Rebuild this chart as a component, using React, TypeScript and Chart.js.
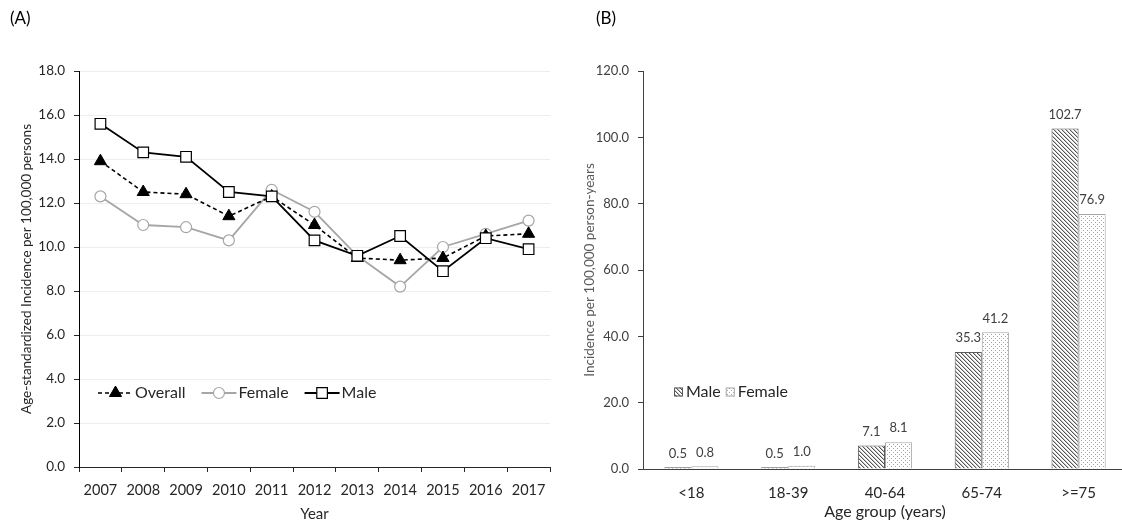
import React, { useEffect, useRef } from 'react';
import { Chart, registerables } from 'chart.js';

Chart.register(...registerables);

// ---------- Data ----------
const years = ['2007', '2008', '2009', '2010', '2011', '2012', '2013', '2014', '2015', '2016', '2017'];
const overallRate = [13.9, 12.5, 12.4, 11.4, 12.3, 11.0, 9.5, 9.4, 9.5, 10.5, 10.6];
const femaleRate = [12.3, 11.0, 10.9, 10.3, 12.6, 11.6, 9.6, 8.2, 10.0, 10.6, 11.2];
const maleRate = [15.6, 14.3, 14.1, 12.5, 12.3, 10.3, 9.6, 10.5, 8.9, 10.4, 9.9];

const ageGroups = ['<18', '18-39', '40-64', '65-74', '>=75'];
const maleByAge = [0.5, 0.5, 7.1, 35.3, 102.7];
const femaleByAge = [0.8, 1.0, 8.1, 41.2, 76.9];

const FONT = 'Lato, "Open Sans", sans-serif';

function makeHatch(): CanvasPattern | string {
  const c = document.createElement('canvas');
  c.width = 4; c.height = 4;
  const g = c.getContext('2d');
  if (!g) return '#999';
  g.fillStyle = '#ffffff';
  g.fillRect(0, 0, 4, 4);
  for (let i = 0; i < 4; i++) {
    g.fillStyle = '#555555';
    g.fillRect(i, i, 1, 1);
    g.fillStyle = '#c4c4c4';
    g.fillRect((i + 1) % 4, i, 1, 1);
  }
  return g.createPattern(c, 'repeat') || '#999';
}

function makeDots(): CanvasPattern | string {
  const c = document.createElement('canvas');
  c.width = 4; c.height = 4;
  const g = c.getContext('2d');
  if (!g) return '#eee';
  g.fillStyle = '#ffffff';
  g.fillRect(0, 0, 4, 4);
  g.fillStyle = '#a3a3a3';
  g.fillRect(1, 0, 1, 1);
  g.fillRect(3, 2, 1, 1);
  return g.createPattern(c, 'repeat') || '#eee';
}

function drawMarker(ctx: CanvasRenderingContext2D, style: string, x: number, y: number, r: number, fill: string, stroke: string, bw: number) {
  ctx.save();
  ctx.beginPath();
  if (style === 'triangle') {
    ctx.moveTo(x, y - r);
    ctx.lineTo(x + r * Math.sin(Math.PI * 2 / 3), y + r * 0.5);
    ctx.lineTo(x - r * Math.sin(Math.PI * 2 / 3), y + r * 0.5);
    ctx.closePath();
  } else if (style === 'rect') {
    const s = r * Math.SQRT1_2;
    ctx.rect(x - s, y - s, 2 * s, 2 * s);
  } else {
    ctx.arc(x, y, r, 0, Math.PI * 2);
  }
  ctx.fillStyle = fill;
  ctx.fill();
  ctx.lineWidth = bw;
  ctx.strokeStyle = stroke;
  ctx.stroke();
  ctx.restore();
}

const legendA = {
  id: 'legendA',
  afterDraw(chart: any) {
    const { ctx, chartArea } = chart;
    const order = [1, 2, 0];
    const y = chartArea.bottom - 74;
    let x = chartArea.left + 19;
    ctx.save();
    ctx.font = `16px ${FONT}`;
    ctx.textBaseline = 'middle';
    ctx.textAlign = 'left';
    order.forEach((idx) => {
      const ds = chart.data.datasets[idx];
      ctx.save();
      ctx.beginPath();
      ctx.strokeStyle = ds.borderColor;
      ctx.lineWidth = ds.borderWidth;
      ctx.setLineDash(ds.borderDash || []);
      ctx.moveTo(x, y);
      ctx.lineTo(x + 35, y);
      ctx.stroke();
      ctx.restore();
      drawMarker(ctx, ds.pointStyle, x + 17.5, y, ds.pointRadius, ds.pointBackgroundColor, ds.pointBorderColor, ds.pointBorderWidth);
      ctx.fillStyle = '#262626';
      ctx.fillText(ds.label, x + 37, y);
      x += 37 + ctx.measureText(ds.label).width + 16;
    });
    ctx.restore();
  },
};

const barExtras = {
  id: 'barExtras',
  afterDatasetsDraw(chart: any) {
    const { ctx, chartArea } = chart;
    ctx.save();
    ctx.font = `13px ${FONT}`;
    ctx.fillStyle = '#404040';
    ctx.textAlign = 'center';
    ctx.textBaseline = 'middle';
    chart.data.datasets.forEach((ds: any, i: number) => {
      const meta = chart.getDatasetMeta(i);
      meta.data.forEach((el: any, j: number) => {
        ctx.fillText(Number(ds.data[j]).toFixed(1), el.x, el.y - 14);
      });
    });
    ctx.restore();

    // legend
    const y = chartArea.bottom - 77;
    let x = chartArea.left + 31;
    ctx.save();
    ctx.font = `16px ${FONT}`;
    ctx.textBaseline = 'middle';
    ctx.textAlign = 'left';
    chart.data.datasets.forEach((ds: any) => {
      ctx.fillStyle = ds.backgroundColor;
      ctx.fillRect(x, y - 4.5, 9, 9);
      ctx.strokeStyle = ds.borderColor;
      ctx.lineWidth = 1;
      ctx.strokeRect(x + 0.5, y - 4, 8, 8);
      ctx.fillStyle = '#262626';
      ctx.fillText(ds.label, x + 12, y);
      x += 12 + ctx.measureText(ds.label).width + 5;
    });
    ctx.restore();
  },
};

export default function App() {
  const refA = useRef<HTMLCanvasElement | null>(null);
  const refB = useRef<HTMLCanvasElement | null>(null);

  useEffect(() => {
    Chart.defaults.font.family = FONT;
    const chartA = new Chart(refA.current as HTMLCanvasElement, {
      type: 'line',
      data: {
        labels: years,
        datasets: [
          {
            label: 'Male',
            data: maleRate,
            borderColor: '#000000',
            borderWidth: 1.8,
            pointStyle: 'rect',
            pointRadius: 7.5,
            pointBackgroundColor: '#ffffff',
            pointBorderColor: '#000000',
            pointBorderWidth: 1.2,
            tension: 0,
          },
          {
            label: 'Overall',
            data: overallRate,
            borderColor: '#000000',
            borderWidth: 1.6,
            borderDash: [4, 3],
            pointStyle: 'triangle',
            pointRadius: 7,
            pointBackgroundColor: '#000000',
            pointBorderColor: '#000000',
            pointBorderWidth: 1,
            tension: 0,
          },
          {
            label: 'Female',
            data: femaleRate,
            borderColor: '#a6a6a6',
            borderWidth: 1.8,
            pointStyle: 'circle',
            pointRadius: 5.5,
            pointBackgroundColor: '#ffffff',
            pointBorderColor: '#a6a6a6',
            pointBorderWidth: 1.2,
            tension: 0,
          },
        ] as any,
      },
      options: {
        responsive: false,
        animation: false,
        devicePixelRatio: 1,
        layout: { padding: { left: 0, top: 71, right: 10, bottom: 0 } },
        plugins: { legend: { display: false }, tooltip: { enabled: false } },
        scales: {
          x: {
            offset: true,
            grid: { offset: true, drawOnChartArea: false, tickLength: 5, tickColor: '#262626' },
            border: { color: '#262626', width: 1 },
            ticks: { color: '#262626', font: { size: 14.5 }, padding: 10, maxRotation: 0, autoSkip: false },
            title: { display: true, text: 'Year', color: '#262626', font: { size: 15 }, padding: { top: 0, bottom: 0 } },
            afterFit: (s: any) => { s.height = 56; },
          },
          y: {
            min: 0,
            max: 18,
            ticks: { stepSize: 2, color: '#262626', font: { size: 13.5 }, padding: 9, callback: (v: any) => Number(v).toFixed(1) },
            grid: { color: '#eeeeee', tickColor: '#262626', tickLength: 5, lineWidth: 1 },
            border: { color: '#000000', width: 1 },
            title: { display: true, text: 'Age-standardized Incidence per 100,000 persons', color: '#262626', font: { size: 13.5 }, padding: { top: 19, bottom: 0 } },
            afterFit: (s: any) => { s.width = 79; },
          },
        },
      },
      plugins: [legendA],
    });

    const chartB = new Chart(refB.current as HTMLCanvasElement, {
      type: 'bar',
      data: {
        labels: ageGroups,
        datasets: [
          {
            label: 'Male',
            data: maleByAge,
            backgroundColor: makeHatch() as any,
            borderColor: '#5a5a5a',
            borderWidth: 1,
            categoryPercentage: 0.56,
            barPercentage: 1,
          },
          {
            label: 'Female',
            data: femaleByAge,
            backgroundColor: makeDots() as any,
            borderColor: '#a6a6a6',
            borderWidth: 1,
            categoryPercentage: 0.56,
            barPercentage: 1,
          },
        ],
      },
      options: {
        responsive: false,
        animation: false,
        devicePixelRatio: 1,
        layout: { padding: { left: 0, top: 71, right: 5, bottom: 0 } },
        plugins: { legend: { display: false }, tooltip: { enabled: false } },
        scales: {
          x: {
            grid: { drawOnChartArea: false, drawTicks: false },
            border: { color: '#404040', width: 1 },
            ticks: { color: '#262626', font: { size: 15 }, padding: 15, maxRotation: 0, autoSkip: false },
            title: { display: true, text: 'Age group (years)', color: '#262626', font: { size: 16 }, padding: { top: 0, bottom: 2 } },
            afterFit: (s: any) => { s.height = 54; },
          },
          y: {
            min: 0,
            max: 120,
            ticks: { stepSize: 20, color: '#404040', font: { size: 13 }, padding: 9, callback: (v: any) => Number(v).toFixed(1) },
            grid: { drawOnChartArea: false, tickColor: '#404040', tickLength: 5 },
            border: { color: '#404040', width: 1 },
            title: { display: true, text: 'Incidence per 100,000 person-years', color: '#595959', font: { size: 13.5 }, padding: { top: 22, bottom: 0 } },
            afterFit: (s: any) => { s.width = 83; },
          },
        },
      },
      plugins: [barExtras],
    });

    return () => {
      chartA.destroy();
      chartB.destroy();
    };
  }, []);

  const panelLabel: React.CSSProperties = {
    position: 'absolute',
    top: 8,
    fontFamily: FONT,
    fontSize: 17,
    color: '#000',
    lineHeight: '20px',
  };

  return (
    <div style={{ position: 'absolute', left: 0, top: 0, width: 1122, height: 523, overflow: 'hidden', background: '#fff' }}>
      <canvas ref={refA} width={560} height={523} style={{ position: 'absolute', left: 0, top: 0 }} />
      <canvas ref={refB} width={572} height={523} style={{ position: 'absolute', left: 560, top: 0 }} />
      <div style={{ ...panelLabel, left: 10 }}>(A)</div>
      <div style={{ ...panelLabel, left: 596 }}>(B)</div>
    </div>
  );
}
